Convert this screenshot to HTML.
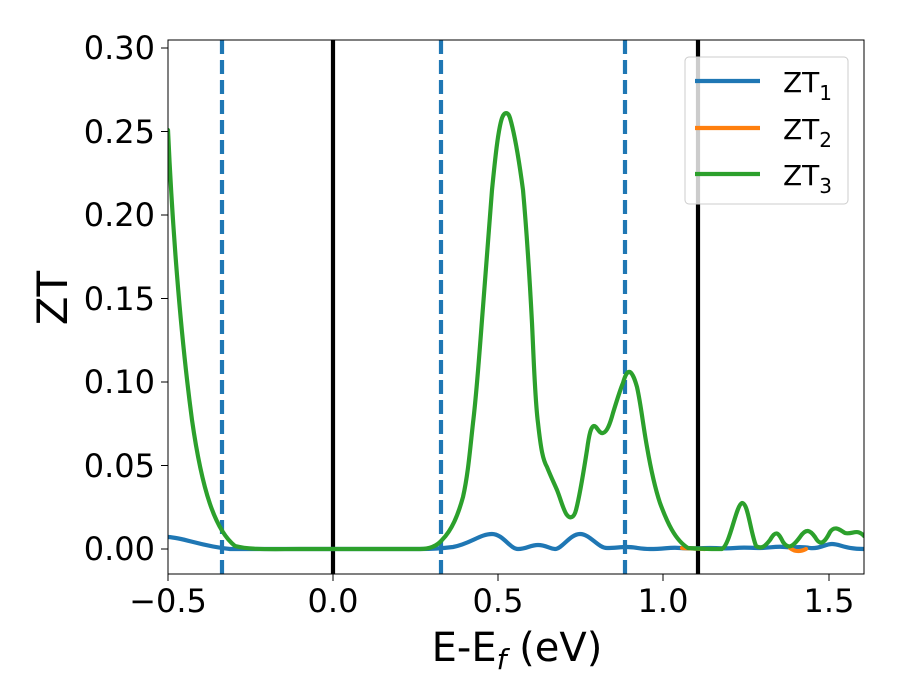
<!DOCTYPE html>
<html><head><meta charset="utf-8"><style>body{margin:0;background:#fff}svg{display:block}text{font-family:"DejaVu Sans","Liberation Sans",sans-serif}</style></head><body>
<svg width="900" height="700" viewBox="0 0 900 700" xmlns="http://www.w3.org/2000/svg">
<rect width="900" height="700" fill="#fff"/>
<defs><clipPath id="c"><rect x="168" y="40" width="696" height="534"/></clipPath></defs>
<g clip-path="url(#c)" fill="none" stroke-width="4.2" stroke-linejoin="round" stroke-linecap="round">
<line x1="222" y1="40" x2="222" y2="574" stroke="#1f77b4" stroke-dasharray="14,6" stroke-linecap="butt"/>
<line x1="441" y1="40" x2="441" y2="574" stroke="#1f77b4" stroke-dasharray="14,6" stroke-linecap="butt"/>
<line x1="625" y1="40" x2="625" y2="574" stroke="#1f77b4" stroke-dasharray="14,6" stroke-linecap="butt"/>
<line x1="333" y1="40" x2="333" y2="574" stroke="#000" stroke-linecap="butt"/>
<line x1="698" y1="40" x2="698" y2="574" stroke="#000" stroke-linecap="butt"/>
<path stroke="#1f77b4" d="M168,537 C185,538 200,546 230,549 L420,549 C435,549 445,548 453,547 C470,544 480,534 492,534 C503,534 510,549 518,549 C527,549 530,545 538,545 C546,545 550,549 555,549 C562,549 570,534 580,534 C590,534 598,548 607,548 C615,548 620,547 627,547 C635,547 640,549 650,549 C665,549 670,547 680,548 C690,549 700,548 710,548 C720,548 725,549 735,548 C745,547 750,548 760,548 C770,548 775,546 785,547 C795,548 800,546 810,548 C820,549 825,544 832,544 C840,544 845,549 864,549"/>
<path stroke="#ff7f0e" d="M682,548 L705,549 M790,548 C795,552 800,552 806,549"/>
<path stroke="#2ca02c" d="M168,130 C172,220 180,330 192,420 C202,490 215,530 235,546 C250,550 270,549 300,549 L420,549 C430,549 437,546 442,540 C452,530 458,515 463,497 C468,475 470,450 473,423 C477,390 480,345 483,307 C486,265 489,225 492,190 C495,160 498,130 502,118 C504,112 508,111 510,118 C515,135 519,160 523,190 C527,235 530,285 532,323 C534,365 535,400 538,423 C541,450 543,460 547,467 C551,477 554,483 557,490 C561,500 564,512 567,515 C570,519 574,518 576,510 C580,495 583,475 587,450 C589,435 591,426 594,426 C597,426 599,434 603,433 C607,432 610,424 613,413 C617,400 620,390 623,383 C625,376 627,371 630,372 C633,374 635,380 637,387 C641,405 643,425 647,447 C651,470 655,488 660,503 C667,522 675,540 688,548 C700,549 712,549 722,549 C730,545 736,505 742,503 C748,503 750,530 756,546 C762,550 766,545 770,540 C776,530 778,532 783,542 C788,549 792,548 800,537 C806,528 810,530 815,537 C820,546 824,544 830,532 C835,525 840,530 845,533 C852,535 857,528 864,536"/>
</g>
<rect x="168" y="40" width="696" height="534" fill="none" stroke="#000" stroke-width="1"/>
<g stroke="#000" stroke-width="1">
<line x1="168" y1="574" x2="168" y2="581"/><line x1="333" y1="574" x2="333" y2="581"/><line x1="498" y1="574" x2="498" y2="581"/><line x1="663" y1="574" x2="663" y2="581"/><line x1="829" y1="574" x2="829" y2="581"/>
<line x1="161" y1="549" x2="168" y2="549"/><line x1="161" y1="465.5" x2="168" y2="465.5"/><line x1="161" y1="382" x2="168" y2="382"/><line x1="161" y1="298.5" x2="168" y2="298.5"/><line x1="161" y1="215" x2="168" y2="215"/><line x1="161" y1="131.5" x2="168" y2="131.5"/><line x1="161" y1="48" x2="168" y2="48"/>
</g>
<g font-size="32" fill="#000" text-anchor="middle">
<text x="168" y="612">−0.5</text><text x="333" y="612">0.0</text><text x="498" y="612">0.5</text><text x="663" y="612">1.0</text><text x="829" y="612">1.5</text>
</g>
<g font-size="32" fill="#000" text-anchor="end">
<text x="155" y="560">0.00</text><text x="155" y="477">0.05</text><text x="155" y="393">0.10</text><text x="155" y="310">0.15</text><text x="155" y="226">0.20</text><text x="155" y="143">0.25</text><text x="155" y="59">0.30</text>
</g>
<text x="517" y="661" font-size="40" text-anchor="middle">E-E<tspan font-size="28" dy="8" font-style="italic">f</tspan><tspan dy="-8"> (eV)</tspan></text>
<text transform="translate(67,298) rotate(-90)" font-size="42" text-anchor="middle">ZT</text>
<rect x="685" y="57" width="163" height="147" rx="4" fill="#fff" fill-opacity="0.8" stroke="#ccc" stroke-width="1"/>
<g stroke-width="4.2">
<line x1="695" y1="81" x2="760" y2="81" stroke="#1f77b4"/>
<line x1="695" y1="128" x2="760" y2="128" stroke="#ff7f0e"/>
<line x1="695" y1="174" x2="760" y2="174" stroke="#2ca02c"/>
</g>
<g font-size="28" fill="#000">
<text x="783" y="92">ZT<tspan font-size="20" dy="8">1</tspan></text>
<text x="783" y="139">ZT<tspan font-size="20" dy="8">2</tspan></text>
<text x="783" y="185">ZT<tspan font-size="20" dy="8">3</tspan></text>
</g>
</svg>
</body></html>
